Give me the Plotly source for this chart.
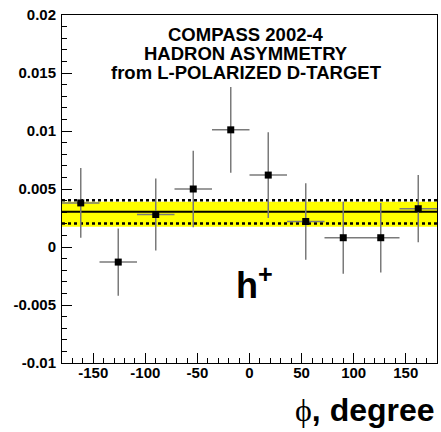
import plotly.graph_objects as go

# Data
phi = [-162, -126, -90, -54, -18, 18, 54, 90, 126, 162]
asym = [0.0038, -0.0013, 0.0028, 0.0050, 0.0101, 0.0062, 0.0022, 0.0008, 0.0008, 0.0033]
asym_err = [0.0030, 0.0029, 0.0031, 0.0033, 0.0037, 0.0037, 0.0033, 0.0031, 0.0030, 0.0029]
phi_halfbin = [18] * 10

mean_val = 0.00303
mean_err = 0.0010
band_low = 0.00175
band_high = 0.0039

x_tickvals = [-150, -100, -50, 0, 50, 100, 150]
x_ticktext = ["-150", "-100", "-50", "0", "50", "100", "150"]
y_tickvals = [-0.01, -0.005, 0, 0.005, 0.01, 0.015, 0.02]
y_ticktext = ["-0.01", "-0.005", "0", "0.005", "0.01", "0.015", "0.02"]

title_lines = ["COMPASS 2002-4", "HADRON ASYMMETRY", "from L-POLARIZED D-TARGET"]

FONT = "Liberation Sans, Arial, sans-serif"

W, H = 441, 432
ML, MR, MT, MB = 62, 4, 15, 69
PH = H - MT - MB


def py(p):
    # pixel row -> paper y
    return (H - MB - p) / PH


fig = go.Figure()

fig.add_trace(go.Scatter(
    x=phi, y=asym, mode="markers",
    marker=dict(symbol="square", size=7, color="black"),
    error_y=dict(type="data", array=asym_err, color="#7a7a7a", thickness=1.5, width=0),
    error_x=dict(type="data", array=phi_halfbin, color="#7a7a7a", thickness=1.5, width=0),
    showlegend=False, cliponaxis=True,
))

shapes = [
    dict(type="rect", xref="x", yref="y", x0=-180, x1=180, y0=band_low, y1=band_high,
         fillcolor="#ffff00", line=dict(width=0), layer="below"),
    dict(type="line", xref="x", yref="y", x0=-180, x1=180, y0=mean_val, y1=mean_val,
         line=dict(color="black", width=2), layer="below"),
    dict(type="line", xref="x", yref="y", x0=-180, x1=180, y0=mean_val + mean_err, y1=mean_val + mean_err,
         line=dict(color="black", width=2.5, dash="dot"), layer="below"),
    dict(type="line", xref="x", yref="y", x0=-180, x1=180, y0=mean_val - mean_err, y1=mean_val - mean_err,
         line=dict(color="black", width=2.5, dash="dot"), layer="below"),
]

annotations = []
title_rows = [34, 53.5, 73]
for txt, row in zip(title_lines, title_rows):
    annotations.append(dict(
        text=txt, xref="paper", yref="paper", x=(246 - ML) / (W - ML - MR), y=py(row),
        xanchor="center", yanchor="middle", showarrow=False,
        font=dict(family=FONT, size=18.5, color="black", weight="bold"),
    ))

annotations.append(dict(
    text="h<sup>+</sup>", xref="paper", yref="paper", x=(254 - ML) / (W - ML - MR), y=py(283),
    xanchor="center", yanchor="middle", showarrow=False,
    font=dict(family=FONT, size=36, color="black", weight="bold"),
))

annotations.append(dict(
    text="<span style=\"font-family:'Liberation Serif', serif;font-weight:normal\">ϕ</span>, degree",
    xref="paper", yref="paper", x=1.0, y=py(410),
    xanchor="right", yanchor="middle", showarrow=False,
    font=dict(family=FONT, size=32, color="black", weight="bold"),
))

fig.update_layout(
    width=W, height=H,
    margin=dict(l=ML, r=MR, t=MT, b=MB, pad=0),
    paper_bgcolor="white", plot_bgcolor="white",
    shapes=shapes, annotations=annotations,
    xaxis=dict(
        range=[-180, 180], tickvals=x_tickvals, ticktext=x_ticktext,
        ticks="inside", ticklen=10, tickwidth=1, tickcolor="black",
        minor=dict(dtick=10, tick0=0, ticks="inside", ticklen=5, tickwidth=1, tickcolor="black", showgrid=False),
        showgrid=False, zeroline=False, showline=True, linecolor="black", linewidth=1, mirror=True,
        tickfont=dict(family=FONT, size=15, color="black", weight="bold"),
        ticklabelstandoff=-4,
    ),
    yaxis=dict(
        range=[-0.01, 0.02], tickvals=y_tickvals, ticktext=y_ticktext,
        ticks="inside", ticklen=10, tickwidth=1, tickcolor="black",
        minor=dict(dtick=0.001, tick0=0, ticks="inside", ticklen=5, tickwidth=1, tickcolor="black", showgrid=False),
        showgrid=False, zeroline=False, showline=True, linecolor="black", linewidth=1, mirror=True,
        tickfont=dict(family=FONT, size=15, color="black", weight="bold"),
        ticklabelstandoff=2,
    ),
)

fig.write_html("out.html")
